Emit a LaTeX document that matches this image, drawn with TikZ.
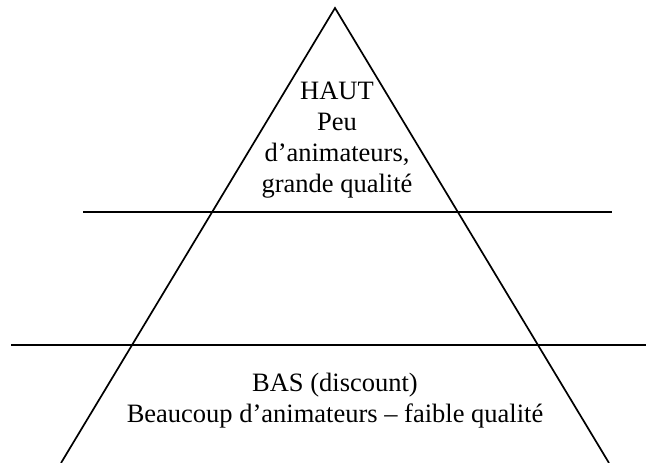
\documentclass[tikz,border=0pt]{standalone}
\usepackage{fontspec}
\setmainfont{Liberation Serif}
\usetikzlibrary{positioning}

\begin{document}
\begin{tikzpicture}[x=1pt,y=-1pt,line width=1.7pt]
  \useasboundingbox (0,0) rectangle (646,463);
  \tikzset{label/.style={align=center,anchor=base,font=\fontsize{26.5}{30.7}\selectfont}}
  % pyramid
  \coordinate (top) at (335,8);
  \coordinate (left) at (61,463);
  \coordinate (right) at (609,463);
  \draw (left) -- (top) -- (right);
  % levels
  \coordinate (hl) at (83,212);
  \coordinate (hr) at (612,212);
  \coordinate (bl) at (11,345);
  \coordinate (br) at (646,345);
  \draw (hl) -- (hr);
  \draw (bl) -- (br);
  \node[label] (haut) at (337,192) {HAUT\\Peu\\d’animateurs,\\grande qualité};
  \node[label] (bas) at (335,422) {BAS (discount)\\Beaucoup d’animateurs – faible qualité};
\end{tikzpicture}
\end{document}
